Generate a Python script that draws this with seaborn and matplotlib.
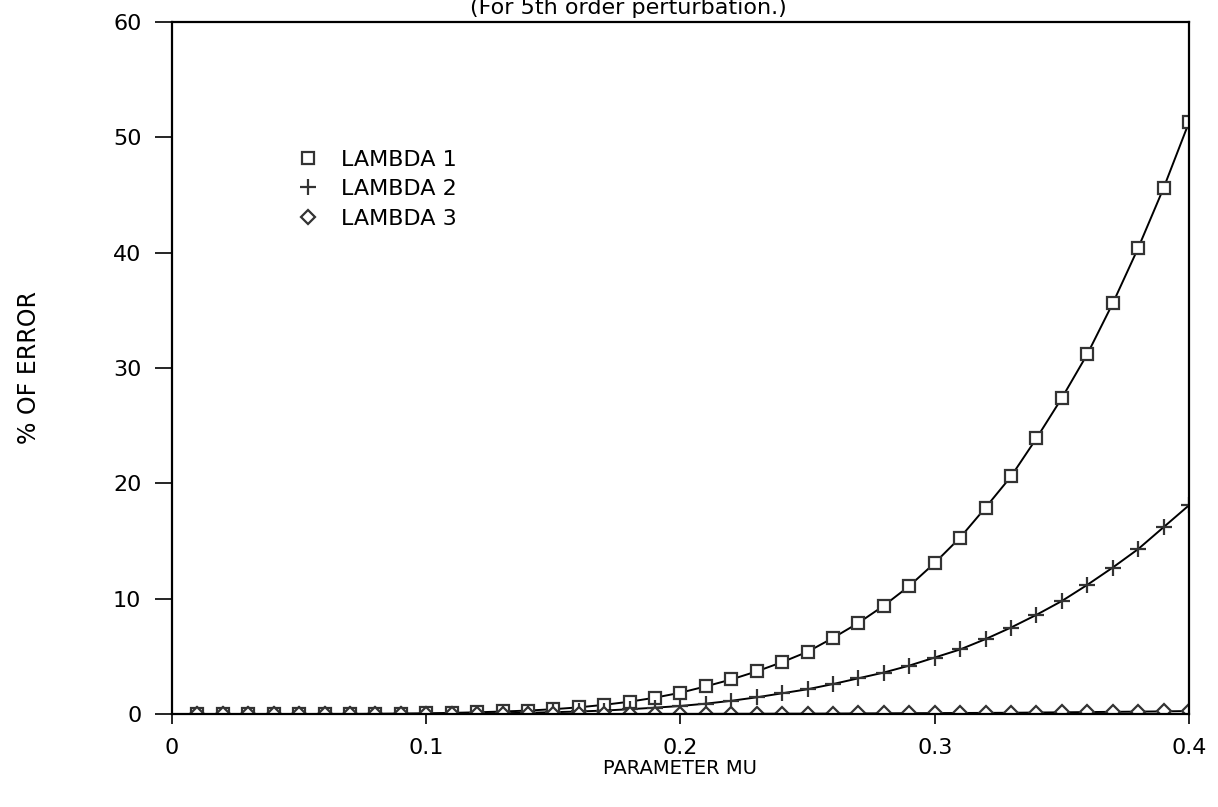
import seaborn as sns
import matplotlib.pyplot as plt
import pandas as pd
import numpy as np

# valores (x = 0.01 ... 0.40)
mu = [round(0.01 * i, 2) for i in range(1, 41)]

lambda_1 = [0.0, 0.0, 0.0, 0.0, 0.0, 0.01, 0.01, 0.02, 0.04, 0.06,
            0.1, 0.15, 0.22, 0.3, 0.42, 0.58, 0.8, 1.07, 1.42, 1.85,
            2.4, 3.0, 3.7, 4.5, 5.4, 6.6, 7.9, 9.4, 11.1, 13.1,
            15.3, 17.9, 20.6, 23.9, 27.4, 31.2, 35.6, 40.4, 45.6, 51.3]

lambda_2 = [0.0, 0.0, 0.0, 0.0, 0.0, 0.0, 0.0, 0.01, 0.01, 0.02,
            0.03, 0.05, 0.07, 0.11, 0.16, 0.22, 0.3, 0.42, 0.55, 0.7,
            0.9, 1.15, 1.45, 1.8, 2.15, 2.6, 3.1, 3.6, 4.2, 4.9,
            5.6, 6.5, 7.5, 8.6, 9.8, 11.2, 12.7, 14.3, 16.2, 18.1]

lambda_3 = [0.0, 0.0, 0.0, 0.0, 0.0, 0.0, 0.0, 0.0, 0.0, 0.0,
            0.0, 0.0, 0.0, 0.0, 0.0, 0.0, 0.0, 0.0, 0.01, 0.01,
            0.01, 0.02, 0.02, 0.03, 0.03, 0.04, 0.05, 0.06, 0.07, 0.08,
            0.09, 0.1, 0.11, 0.13, 0.15, 0.17, 0.19, 0.21, 0.23, 0.26]

series = [("LAMBDA 1", lambda_1, "s", 9),
          ("LAMBDA 2", lambda_2, "+", 11),
          ("LAMBDA 3", lambda_3, "D", 7.5)]

sns.set_style("ticks")
plt.rcParams['font.family'] = ['DejaVu Sans']
plt.rcParams['text.color'] = 'black'
plt.rcParams['axes.labelcolor'] = 'black'

fig = plt.figure(figsize=(12.18, 8.07), dpi=100)
ax = fig.add_axes([0.1412, 0.1152, 0.835, 0.8576])

for name, vals, mk, ms in series:
    df = pd.DataFrame({"mu": mu, "err": vals})
    sns.lineplot(data=df, x="mu", y="err", ax=ax, color="black", linewidth=1.4,
                 marker=mk, markersize=ms, markerfacecolor="white",
                 markeredgecolor="#333333", markeredgewidth=1.6, label=name)

ax.set_xlim(0, 0.4)
ax.set_ylim(0, 60)
ax.set_xticks([0, 0.1, 0.2, 0.3, 0.4])
ax.set_xticklabels(["0", "0.1", "0.2", "0.3", "0.4"])
ax.set_yticks([0, 10, 20, 30, 40, 50, 60])
ax.tick_params(axis="x", length=7, width=1.2, labelsize=16, pad=10, colors="black")
ax.tick_params(axis="y", length=12, width=1.2, labelsize=16, pad=10, colors="black")
for s in ax.spines.values():
    s.set_visible(True)
    s.set_linewidth(1.6)
    s.set_color("black")

ax.set_xlabel("PARAMETER MU", fontsize=14, labelpad=1)
ax.set_ylabel("% OF ERROR", fontsize=17, labelpad=52)

ax.legend(loc="upper left", bbox_to_anchor=(0.112, 0.828), frameon=False,
          fontsize=16, handlelength=1.2, handletextpad=0.9, labelspacing=0.42,
          borderaxespad=0)
for line in ax.get_legend().get_lines():
    line.set_linestyle("none")

fig.text(0.516, 0.99, "(For 5th order perturbation.)", ha="center", va="center",
         fontsize=16)

fig.savefig("out.png", dpi=100, facecolor="white")
